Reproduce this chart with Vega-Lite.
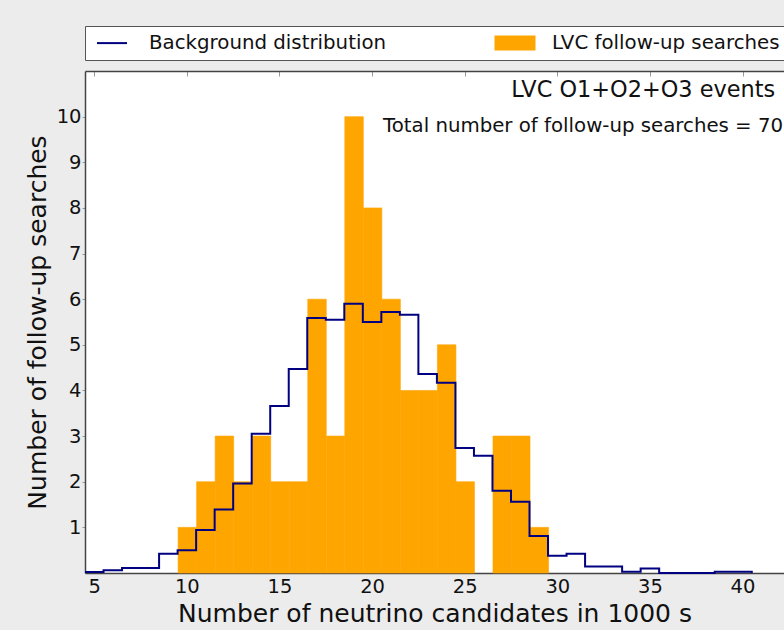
{
  "$schema": "https://vega.github.io/schema/vega-lite/v6.json",
  "width": 699,
  "height": 502,
  "autosize": {"type": "none"},
  "padding": {"left": 85, "top": 71, "right": 0, "bottom": 57},
  "background": "#ececec",
  "config": {
    "view": {"stroke": null, "fill": "white"},
    "font": "DejaVu Sans",
    "axis": {"zindex": 1, "grid": false, "labelColor": "#111", "titleColor": "#111", "labelFont": "DejaVu Sans", "titleFont": "DejaVu Sans", "titleFontWeight": "normal", "domainColor": "#444", "domainWidth": 1.5, "tickColor": "#999"},
    "legend": {
      "orient": "none", "legendX": 0, "legendY": -45, "direction": "horizontal", "columns": 2,
      "padding": 7, "fillColor": "white", "strokeColor": "#555",
      "labelFontSize": 19.8, "labelColor": "#111", "labelLimit": 400, "labelOffset": 27,
      "symbolSize": 400, "symbolOffset": 10, "columnPadding": 107,
      "symbolStrokeWidth": 0
    }
  },
  "datasets": {
    "obs": [
      {"lo": 9.5, "hi": 10.5, "n": 1},
      {"lo": 10.5, "hi": 11.5, "n": 2},
      {"lo": 11.5, "hi": 12.5, "n": 3},
      {"lo": 12.5, "hi": 13.5, "n": 2},
      {"lo": 13.5, "hi": 14.5, "n": 3},
      {"lo": 14.5, "hi": 15.5, "n": 2},
      {"lo": 15.5, "hi": 16.5, "n": 2},
      {"lo": 16.5, "hi": 17.5, "n": 6},
      {"lo": 17.5, "hi": 18.5, "n": 3},
      {"lo": 18.5, "hi": 19.5, "n": 10},
      {"lo": 19.5, "hi": 20.5, "n": 8},
      {"lo": 20.5, "hi": 21.5, "n": 6},
      {"lo": 21.5, "hi": 22.5, "n": 4},
      {"lo": 22.5, "hi": 23.5, "n": 4},
      {"lo": 23.5, "hi": 24.5, "n": 5},
      {"lo": 24.5, "hi": 25.5, "n": 2},
      {"lo": 26.5, "hi": 27.5, "n": 3},
      {"lo": 27.5, "hi": 28.5, "n": 3},
      {"lo": 28.5, "hi": 29.5, "n": 1}
    ],
    "bg": [
      {"edge": 4.5, "bg": 0.02},
      {"edge": 5.5, "bg": 0.06},
      {"edge": 6.5, "bg": 0.11},
      {"edge": 7.5, "bg": 0.11},
      {"edge": 8.5, "bg": 0.42},
      {"edge": 9.5, "bg": 0.5},
      {"edge": 10.5, "bg": 0.94},
      {"edge": 11.5, "bg": 1.39},
      {"edge": 12.5, "bg": 1.96},
      {"edge": 13.5, "bg": 3.05},
      {"edge": 14.5, "bg": 3.66},
      {"edge": 15.5, "bg": 4.47},
      {"edge": 16.5, "bg": 5.59},
      {"edge": 17.5, "bg": 5.55},
      {"edge": 18.5, "bg": 5.9},
      {"edge": 19.5, "bg": 5.5},
      {"edge": 20.5, "bg": 5.72},
      {"edge": 21.5, "bg": 5.66},
      {"edge": 22.5, "bg": 4.36},
      {"edge": 23.5, "bg": 4.17},
      {"edge": 24.5, "bg": 2.74},
      {"edge": 25.5, "bg": 2.57},
      {"edge": 26.5, "bg": 1.8},
      {"edge": 27.5, "bg": 1.56},
      {"edge": 28.5, "bg": 0.81},
      {"edge": 29.5, "bg": 0.38},
      {"edge": 30.5, "bg": 0.42},
      {"edge": 31.5, "bg": 0.14},
      {"edge": 32.5, "bg": 0.14},
      {"edge": 33.5, "bg": 0.03},
      {"edge": 34.5, "bg": 0.1},
      {"edge": 35.5, "bg": 0},
      {"edge": 36.5, "bg": 0},
      {"edge": 37.5, "bg": 0},
      {"edge": 38.5, "bg": 0.03},
      {"edge": 39.5, "bg": 0.03},
      {"edge": 40.5, "bg": 0}
    ],
    "notes": [
      {"label": "LVC O1+O2+O3 events"},
      {"label": "Total number of follow-up searches = 70"}
    ]
  },
  "resolve": {"axis": {"x": "independent", "y": "independent"}},
  "layer": [
    {
      "data": {"name": "obs"},
      "mark": {"type": "bar", "binSpacing": 0, "stroke": "#FFA500", "strokeWidth": 0.6},
      "encoding": {
        "x": {"field": "lo", "type": "quantitative", "bin": "binned", "scale": {"domain": [4.5, 42.24], "nice": false, "zero": false},
          "axis": {"orient": "bottom", "values": [5, 10, 15, 20, 25, 30, 35, 40], "title": "Number of neutrino candidates in 1000 s", "labelFontSize": 19.5, "titleFontSize": 25, "tickSize": 0, "labelPadding": 4, "titlePadding": 6, "labelFlush": false}},
        "x2": {"field": "hi"},
        "y": {"field": "n", "type": "quantitative", "scale": {"domain": [0, 11], "nice": false},
          "axis": {"orient": "left", "values": [1, 2, 3, 4, 5, 6, 7, 8, 9, 10], "title": "Number of follow-up searches", "labelFontSize": 19.5, "titleFontSize": 25, "tickSize": 3, "labelPadding": 1, "titlePadding": 6}},
        "color": {"datum": "LVC follow-up searches", "type": "nominal",
          "scale": {"domain": ["Background distribution", "LVC follow-up searches"], "range": ["#000080", "#FFA500"]},
          "legend": {
            "title": null,
            "symbolType": "M-2.05,-0.75H2.05V0.75H-2.05Z",
            "encode": {"symbols": {"update": {
              "shape": {"signal": "datum.value === 'Background distribution' ? 'M-1.5,-0.1H1.5V0.1H-1.5Z' : 'M-2.05,-0.75H2.05V0.75H-2.05Z'"}
            }}}
          }}
      }
    },
    {
      "data": {"name": "bg"},
      "mark": {"type": "line", "interpolate": "step-after", "strokeWidth": 2},
      "encoding": {
        "x": {"field": "edge", "type": "quantitative",
          "axis": {"orient": "top", "values": [5, 10, 15, 20, 25, 30, 35, 40], "labels": false, "title": null, "tickSize": -5}},
        "y": {"field": "bg", "type": "quantitative", "axis": null},
        "color": {"datum": "Background distribution", "type": "nominal",
          "legend": {
            "title": null,
            "symbolType": "M-2.05,-0.75H2.05V0.75H-2.05Z",
            "encode": {"symbols": {"update": {
              "shape": {"signal": "datum.value === 'Background distribution' ? 'M-1.5,-0.1H1.5V0.1H-1.5Z' : 'M-2.05,-0.75H2.05V0.75H-2.05Z'"}
            }}}
          }}
      }
    },
    {
      "data": {"name": "notes"},
      "transform": [{"filter": "datum.label === 'LVC O1+O2+O3 events'"}],
      "mark": {"type": "text", "align": "right", "baseline": "alphabetic", "fontSize": 22.4, "color": "#111", "font": "DejaVu Sans"},
      "encoding": {
        "x": {"datum": 41.76, "type": "quantitative", "axis": null},
        "y": {"datum": 10.43, "type": "quantitative", "axis": null},
        "text": {"field": "label", "type": "nominal"}
      }
    },
    {
      "data": {"name": "notes"},
      "transform": [{"filter": "datum.label !== 'LVC O1+O2+O3 events'"}],
      "mark": {"type": "text", "align": "left", "baseline": "alphabetic", "fontSize": 19.75, "color": "#111", "font": "DejaVu Sans"},
      "encoding": {
        "x": {"datum": 20.59, "type": "quantitative", "axis": null},
        "y": {"datum": 9.66, "type": "quantitative", "axis": null},
        "text": {"field": "label", "type": "nominal"}
      }
    }
  ]
}
